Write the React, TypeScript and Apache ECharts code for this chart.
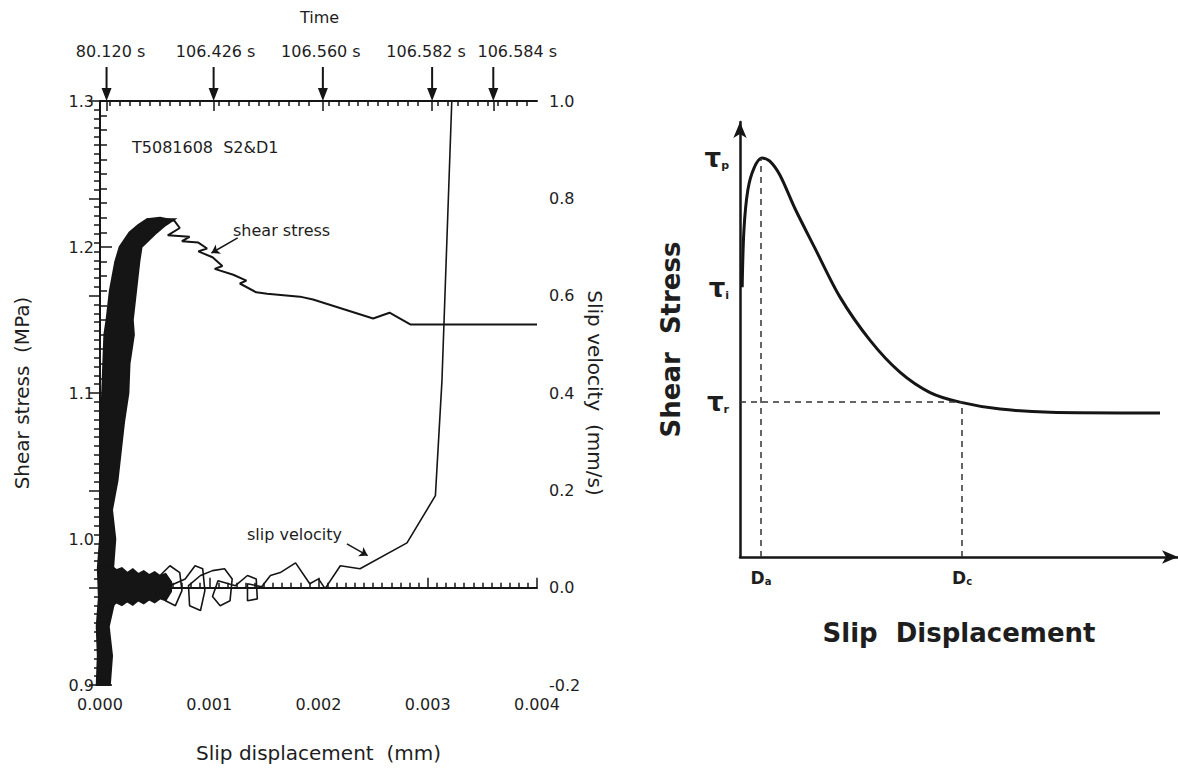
import React, { useEffect, useRef } from "react";
import * as echarts from "echarts";

// ---------- Left chart: measured record ----------
const dispTickLabels = ["0.000", "0.001", "0.002", "0.003", "0.004"];
const timeLabels = ["80.120 s", "106.426 s", "106.560 s", "106.582 s", "106.584 s"];
const timeMarkDisp = [0.00006, 0.00104, 0.00204, 0.00304, 0.0036];

// dense stress band (noisy loading phase): level, left / right edge of the band (mm)
const stressBandLevels = [0.9, 0.92, 0.94, 0.96, 0.98, 1.0, 1.02, 1.04, 1.06, 1.08, 1.1, 1.12, 1.14, 1.15, 1.17, 1.19, 1.2, 1.21, 1.215, 1.219];
const stressBandLeft = [-0.00003, -0.00002, -0.00003, -0.00001, -0.00002, 0, 0, 0, 0.00001, 0.00001, 0.00002, 0.00003, 0.00004, 0.00006, 0.00009, 0.00014, 0.00018, 0.00027, 0.00035, 0.00043];
const stressBandRight = [0.00009, 0.00011, 0.00008, 0.00014, 0.00012, 0.00014, 0.00011, 0.00016, 0.00019, 0.00022, 0.00026, 0.00027, 0.00031, 0.0003, 0.00033, 0.00036, 0.00038, 0.00052, 0.0006, 0.00068];

// shear stress after the peak
const stressDisp = [0.00043, 0.00055, 0.00068, 0.00073, 0.00062, 0.00082, 0.00075, 0.0009, 0.00098, 0.0009, 0.00103, 0.00112, 0.00105, 0.00122, 0.00134, 0.00128, 0.00143, 0.00153, 0.00183, 0.00195, 0.0025, 0.00265, 0.00284, 0.004];
const stressVal = [1.219, 1.22, 1.218, 1.213, 1.208, 1.207, 1.204, 1.203, 1.199, 1.197, 1.193, 1.187, 1.185, 1.181, 1.177, 1.175, 1.169, 1.168, 1.166, 1.164, 1.151, 1.155, 1.147, 1.147];

// dense slip-velocity cloud near zero
const velCloudDisp = [0.0, 0.00005, 0.0001, 0.00015, 0.0002, 0.00025, 0.0003, 0.00035, 0.0004, 0.00045, 0.0005, 0.00055, 0.0006, 0.00065];
const velCloudLow = [-0.05, -0.038, -0.04, -0.03, -0.036, -0.028, -0.035, -0.026, -0.032, -0.024, -0.03, -0.022, -0.026, -0.008];
const velCloudHigh = [0.06, 0.042, 0.045, 0.036, 0.04, 0.03, 0.038, 0.028, 0.034, 0.026, 0.032, 0.024, 0.028, 0.012];

// slip velocity trace
const velDisp = [0.00055, 0.00064, 0.00073, 0.00075, 0.00069, 0.0006, 0.00064, 0.00078, 0.00087, 0.00094, 0.00096, 0.00092, 0.00082, 0.00081, 0.00092, 0.00103, 0.00114, 0.00121, 0.00119, 0.0011, 0.00103, 0.00108, 0.00124, 0.00135, 0.00143, 0.00144, 0.00135, 0.00135, 0.00148, 0.00156, 0.00165, 0.00179, 0.00192, 0.002, 0.00206, 0.0022, 0.00238, 0.00281, 0.00307, 0.00313, 0.00322];
const velVal = [0.025, 0.045, 0.031, -0.006, -0.037, -0.027, 0.004, 0.018, 0.045, 0.039, -0.006, -0.047, -0.037, 0.004, 0.025, 0.035, 0.039, 0.018, -0.027, -0.037, -0.018, 0.014, 0.004, 0.025, 0.018, -0.023, -0.027, 0.008, 0.002, 0.025, 0.031, 0.051, 0.008, 0.018, -0.002, 0.045, 0.039, 0.092, 0.189, 0.425, 1.0];

// ---------- Right chart: schematic ----------
const schemDisp = [0.05, 0.09, 0.18, 0.32, 0.5, 0.68, 0.91, 1.26, 1.71, 2.28, 2.97, 3.65, 4.34, 5.02, 5.94, 7.08, 9.59];
const schemStress = [6.2, 7.52, 8.44, 8.94, 9.17, 9.1, 8.78, 8.0, 7.1, 5.98, 4.98, 4.25, 3.78, 3.56, 3.4, 3.33, 3.31];
const tauValues = [9.17, 6.18, 3.56];
const tauSubs = ["p", "i", "r"];
const dValues = [0.48, 5.07];
const dSubs = ["a", "c"];

const FONT = "DejaVu Sans, Liberation Sans, Arial, sans-serif";
const INK = "#151515";
const TXT = "#1e1e1e";
const timeLabelShift = [4, 2, -2, -6, 24];

export default function App() {
  const ref = useRef<HTMLDivElement>(null);
  useEffect(() => {
    if (!ref.current) return;
    const chart = echarts.init(ref.current, null, { renderer: "svg" });

    const bandData = stressBandLevels.map((s, i) => [stressBandLeft[i], s, stressBandRight[i]]);
    const cloudData = velCloudDisp.map((d, i) => [d, velCloudLow[i], velCloudHigh[i]]);

    const option: any = {
      animation: false,
      backgroundColor: "#fff",
      textStyle: { fontFamily: FONT },
      grid: [
        { left: 100, top: 101, width: 437, height: 584 },
        { left: 740, top: 122, width: 438, height: 435 },
      ],
      xAxis: [
        {
          type: "value", gridIndex: 0, position: "bottom", min: 0, max: 0.004, interval: 0.001,
          name: "Slip displacement  (mm)", nameLocation: "middle", nameGap: 58,
          nameTextStyle: { fontSize: 20, color: TXT, fontFamily: FONT },
          axisLine: { lineStyle: { color: INK, width: 2 } },
          axisTick: { inside: true, length: 10, lineStyle: { color: INK, width: 1.5 } },
          minorTick: { show: true, splitNumber: 12, length: 5, lineStyle: { color: INK, width: 1.5 } },
          splitLine: { show: false },
          axisLabel: { fontSize: 16, color: TXT, margin: 11, formatter: (v: number) => dispTickLabels[Math.round(v / 0.001)] },
        },
        {
          type: "value", gridIndex: 0, position: "top", min: 0, max: 0.004, interval: 0.001,
          axisLine: { lineStyle: { color: INK, width: 2 } },
          axisTick: { inside: true, length: 10, customValues: timeMarkDisp, lineStyle: { color: INK, width: 1.5 } },
          minorTick: { show: true, splitNumber: 11, length: 5, lineStyle: { color: INK, width: 1.5 } },
          splitLine: { show: false },
          axisLabel: { show: false },
        },
        {
          type: "value", gridIndex: 1, min: 0, max: 10,
          name: "Slip  Displacement", nameLocation: "middle", nameGap: 63,
          nameTextStyle: { fontSize: 26, fontWeight: "bold", color: TXT, fontFamily: FONT },
          axisLine: { symbol: ["none", "arrow"], symbolSize: [10, 16], lineStyle: { color: INK, width: 2.5 } },
          axisTick: { show: false },
          splitLine: { show: false },
          axisLabel: {
            customValues: dValues, margin: 12, color: TXT,
            formatter: (v: number) => {
              const i = dValues.findIndex((d) => Math.abs(d - v) < 1e-6);
              return `{d|D}{s|${dSubs[i] ?? ""}}`;
            },
            rich: {
              d: { fontSize: 17, fontWeight: "bold", fontFamily: FONT, color: TXT },
              s: { fontSize: 10, fontWeight: "bold", fontFamily: FONT, color: TXT, verticalAlign: "bottom", padding: [6, 0, 0, 0] },
            },
          },
        },
      ],
      yAxis: [
        {
          type: "value", gridIndex: 0, position: "left", min: 0.9, max: 1.3, interval: 0.1,
          name: "Shear stress  (MPa)", nameLocation: "middle", nameGap: 68, nameRotate: 90,
          nameTextStyle: { fontSize: 20, color: TXT, fontFamily: FONT },
          axisLine: { lineStyle: { color: INK, width: 2 } },
          axisTick: { inside: true, length: 12, lineStyle: { color: INK, width: 1.5 } },
          minorTick: { show: true, splitNumber: 10, length: 7, lineStyle: { color: INK, width: 1.5 } },
          splitLine: { show: false },
          axisLabel: { fontSize: 16, color: TXT, margin: 6, formatter: (v: number) => v.toFixed(1) },
        },
        {
          type: "value", gridIndex: 0, position: "right", min: -0.2, max: 1.0, interval: 0.2,
          name: "Slip velocity  (mm/s)", nameLocation: "middle", nameGap: 48, nameRotate: -90,
          nameTextStyle: { fontSize: 20, color: TXT, fontFamily: FONT },
          axisLine: { lineStyle: { color: INK, width: 2 } },
          axisTick: { inside: true, length: 11, lineStyle: { color: INK, width: 1.5 } },
          minorTick: { show: true, splitNumber: 11, length: 6, lineStyle: { color: INK, width: 1.5 } },
          splitLine: { show: false },
          axisLabel: { fontSize: 16, color: TXT, margin: 12, formatter: (v: number) => v.toFixed(1) },
        },
        {
          type: "value", gridIndex: 1, min: 0, max: 10,
          name: "Shear  Stress", nameLocation: "middle", nameGap: 56, nameRotate: 90,
          nameTextStyle: { fontSize: 26, fontWeight: "bold", color: TXT, fontFamily: FONT },
          axisLine: { symbol: ["none", "arrow"], symbolSize: [10, 16], lineStyle: { color: INK, width: 2.5 } },
          axisTick: { show: false },
          splitLine: { show: false },
          axisLabel: {
            customValues: tauValues, margin: 11, color: TXT,
            formatter: (v: number) => {
              const i = tauValues.findIndex((d) => Math.abs(d - v) < 1e-6);
              return `{t|τ}{s|${tauSubs[i] ?? ""}}`;
            },
            rich: {
              t: { fontSize: 26, fontWeight: "bold", fontFamily: FONT, color: TXT },
              s: { fontSize: 11, fontWeight: "bold", fontFamily: FONT, color: TXT, verticalAlign: "bottom", padding: [9, 0, 0, 0] },
            },
          },
        },
      ],
      series: [
        {
          type: "custom", name: "stress band", xAxisIndex: 0, yAxisIndex: 0, clip: false,
          data: bandData, encode: { x: [0, 2], y: 1 },
          renderItem: (params: any, api: any) => {
            if (params.dataIndex !== 0) return null;
            const left = bandData.map((r) => api.coord([r[0], r[1]]));
            const right = bandData.map((r) => api.coord([r[2], r[1]])).reverse();
            return { type: "polygon", shape: { points: [...left, ...right] }, style: { fill: INK, stroke: INK, lineWidth: 2 } };
          },
        },
        {
          type: "custom", name: "velocity cloud", xAxisIndex: 0, yAxisIndex: 1, clip: false,
          data: cloudData, encode: { x: 0, y: [1, 2] },
          renderItem: (params: any, api: any) => {
            if (params.dataIndex !== 0) return null;
            const low = cloudData.map((r) => api.coord([r[0], r[1]]));
            const high = cloudData.map((r) => api.coord([r[0], r[2]])).reverse();
            return { type: "polygon", shape: { points: [...low, ...high] }, style: { fill: INK, stroke: INK, lineWidth: 2 } };
          },
        },
        {
          type: "line", name: "shear stress", xAxisIndex: 0, yAxisIndex: 0,
          data: stressDisp.map((d, i) => [d, stressVal[i]]),
          showSymbol: false, symbol: "none", lineStyle: { color: INK, width: 2 },
          markLine: {
            silent: true, symbol: ["none", "arrow"], symbolSize: 8, label: { show: false },
            lineStyle: { color: INK, width: 1.5, type: "solid" },
            data: [[{ coord: [0.00126, 1.2062] }, { coord: [0.00102, 1.1959] }]],
          },
        },
        {
          type: "line", name: "slip velocity", xAxisIndex: 0, yAxisIndex: 1,
          data: velDisp.map((d, i) => [d, velVal[i]]),
          showSymbol: false, symbol: "none", lineStyle: { color: INK, width: 1.6 },
          markLine: {
            silent: true, symbol: ["none", "none"], label: { show: false },
            lineStyle: { color: INK, width: 2, type: [12, 9] },
            data: [
              [{ coord: [0, 0] }, { coord: [0.004, 0] }],
              [
                { coord: [0.00226, 0.09], lineStyle: { type: "solid", width: 1.5 } },
                { coord: [0.00245, 0.066], symbol: "arrow", symbolSize: 8 },
              ],
            ],
          },
        },
        {
          type: "scatter", name: "time marks", xAxisIndex: 1, yAxisIndex: 0, clip: false,
          data: timeMarkDisp.map((d, i) => ({
            value: [d, 1.3],
            label: { show: true, position: "top", distance: 8, offset: [timeLabelShift[i], 0], formatter: timeLabels[i], fontSize: 16, color: TXT, fontFamily: FONT },
          })),
          symbol: "path://M4,0 L6,0 L6,21 L10,21 L5,34 L0,21 L4,21 Z",
          symbolSize: [10, 34], symbolOffset: [0, -17],
          itemStyle: { color: INK, opacity: 1 },
        },
        {
          type: "line", name: "schematic", xAxisIndex: 2, yAxisIndex: 2,
          data: schemDisp.map((d, i) => [d, schemStress[i]]),
          smooth: 0.3, showSymbol: false, symbol: "none",
          lineStyle: { color: INK, width: 3 },
          markLine: {
            silent: true, symbol: ["none", "none"], label: { show: false },
            lineStyle: { color: "#333", width: 1.5, type: [6, 5] },
            data: [
              [{ coord: [dValues[0], 0] }, { coord: [dValues[0], tauValues[0]] }],
              [{ coord: [dValues[1], 0] }, { coord: [dValues[1], tauValues[2]] }],
              [{ coord: [0, tauValues[2]] }, { coord: [dValues[1], tauValues[2]] }],
            ],
          },
        },
      ],
      graphic: [
        { type: "text", left: 300, top: 9, style: { text: "Time", fontSize: 16, fill: TXT, fontFamily: FONT } },
        { type: "text", x: 132, y: 147, style: { text: "T5081608  S2&D1", fontSize: 16, fill: TXT, fontFamily: FONT, verticalAlign: "middle" } },
        { type: "text", x: 233, y: 230, style: { text: "shear stress", fontSize: 16, fill: TXT, fontFamily: FONT, verticalAlign: "middle" } },
        { type: "text", x: 247, y: 534, style: { text: "slip velocity", fontSize: 16, fill: TXT, fontFamily: FONT, verticalAlign: "middle" } },
      ],
    };

    chart.setOption(option);
    return () => chart.dispose();
  }, []);

  return <div ref={ref} style={{ position: "absolute", left: 0, top: 0, width: 1178, height: 768, background: "#fff" }} />;
}
